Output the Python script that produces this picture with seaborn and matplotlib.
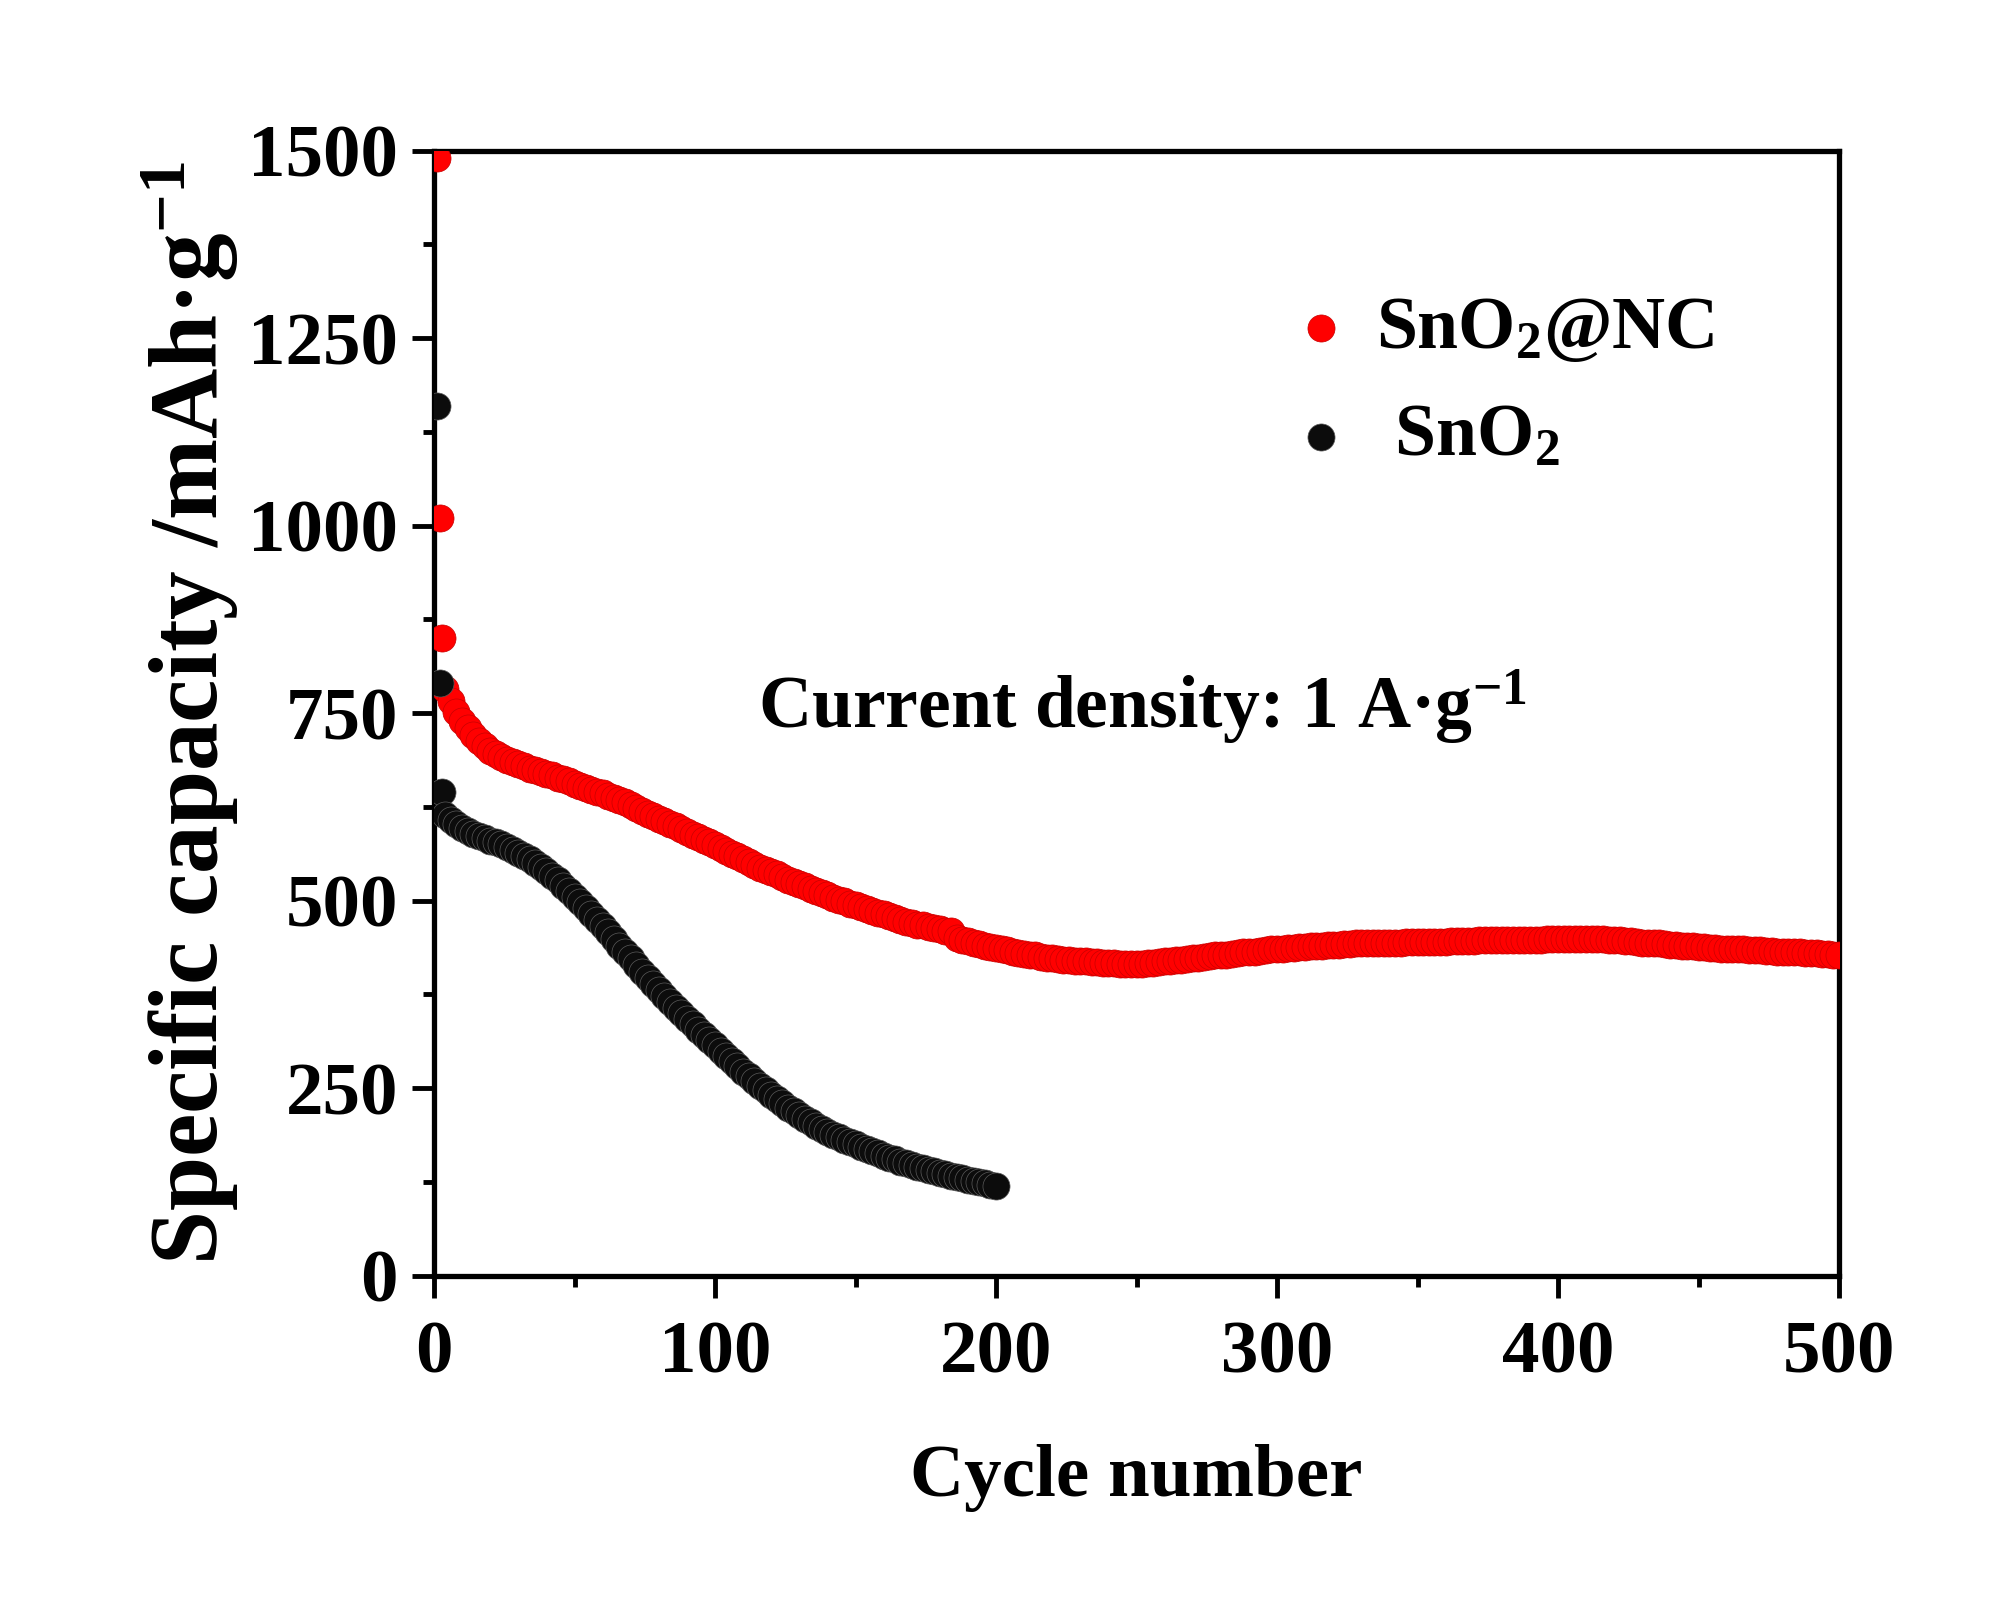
import pandas as pd
import matplotlib
matplotlib.use("Agg")
import matplotlib.pyplot as plt
import seaborn as sns
from matplotlib.ticker import MultipleLocator

# SnO2@NC : specific capacity (mAh g-1)
# cycles 1, 2, 3, then every second cycle from 4 to 500
nc_cycles = [1, 2, 3] + list(range(4, 501, 2))
nc_capacity = [1490, 1010, 850,
               782, 766, 752, 740, 730, 721, 713, 706, 700,
               695, 691, 688, 685, 682, 679, 676, 674, 671, 669,
               667, 664, 662, 659, 656, 653, 650, 648, 645, 643,
               640, 637, 634, 631, 627, 624, 620, 616, 613, 609,
               606, 602, 599, 595, 592, 588, 585, 581, 578, 574,
               570, 566, 562, 559, 555, 551, 548, 544, 541, 538,
               535, 532, 528, 525, 522, 519, 516, 513, 510, 507,
               504, 501, 499, 496, 494, 491, 489, 486, 484, 482,
               479, 477, 474, 472, 470, 468, 467, 465, 463, 462,
               460, 459, 450, 448, 446, 444, 442, 440, 438, 437,
               435, 434, 432, 430, 429, 428, 427, 425, 424, 423,
               422, 421, 421, 420, 419, 419, 418, 418, 417, 417,
               417, 416, 416, 416, 416, 416, 417, 417, 418, 419,
               420, 421, 421, 422, 423, 424, 425, 426, 427, 427,
               428, 429, 430, 431, 431, 432, 433, 434, 435, 435,
               436, 437, 437, 438, 438, 439, 440, 440, 441, 441,
               441, 442, 442, 443, 443, 443, 443, 444, 444, 444,
               444, 444, 445, 445, 445, 445, 445, 445, 445, 445,
               446, 446, 446, 446, 446, 447, 447, 447, 447, 447,
               448, 448, 448, 448, 448, 448, 448, 449, 449, 449,
               449, 449, 449, 449, 449, 449, 449, 449, 448, 448,
               447, 446, 446, 445, 444, 444, 443, 443, 442, 441,
               441, 440, 440, 439, 438, 438, 437, 437, 436, 436,
               436, 435, 435, 434, 434, 434, 433, 433, 432, 432,
               432, 431, 431, 430, 430, 430, 429, 429, 428, 428]

# bare SnO2 : cycles 1, 2, 3, then every second cycle from 4 to 200
sn_cycles = [1, 2, 3] + list(range(4, 201, 2))
sn_capacity = [1160, 790, 645,
               614, 607, 602, 597, 593, 589, 586, 583, 580,
               578, 575, 572, 568, 564, 560, 555, 550, 545, 539,
               533, 527, 520, 513, 505, 498, 490, 482, 474, 466,
               458, 449, 440, 431, 423, 414, 405, 397, 389, 381,
               373, 365, 357, 350, 342, 335, 328, 321, 314, 307,
               300, 293, 286, 279, 272, 266, 259, 253, 247, 241,
               235, 230, 224, 219, 214, 209, 205, 200, 196, 192,
               188, 185, 181, 178, 175, 172, 169, 166, 163, 160,
               157, 155, 152, 150, 147, 145, 143, 141, 139, 137,
               135, 133, 131, 130, 128, 126, 125, 123, 121, 120]

x_ticks = [0, 100, 200, 300, 400, 500]
y_ticks = [0, 250, 500, 750, 1000, 1250, 1500]

sns.set_style("white")
plt.rcParams["font.family"] = ["Liberation Serif", "DejaVu Serif"]
plt.rcParams["font.weight"] = "bold"
plt.rcParams["text.color"] = "black"
plt.rcParams["axes.labelcolor"] = "black"
plt.rcParams["xtick.color"] = "black"
plt.rcParams["ytick.color"] = "black"
plt.rcParams["mathtext.fontset"] = "custom"
plt.rcParams["mathtext.rm"] = "Liberation Serif:bold"
plt.rcParams["mathtext.bf"] = "Liberation Serif:bold"
plt.rcParams["mathtext.it"] = "Liberation Serif:bold"
plt.rcParams["mathtext.default"] = "bf"

df_nc = pd.DataFrame({"Cycle": nc_cycles, "Capacity": nc_capacity})
df_sn = pd.DataFrame({"Cycle": sn_cycles, "Capacity": sn_capacity})

fig = plt.figure(figsize=(20, 16.2), dpi=100)
ax = fig.add_axes([0.217, 0.2125, 0.7025, 0.6945])

sns.scatterplot(ax=ax, data=df_nc, x="Cycle", y="Capacity", color="#ff0000",
                edgecolor="#c80000", linewidth=0.5, s=380, label="SnO$_2$@NC", zorder=3)
sns.scatterplot(ax=ax, data=df_sn, x="Cycle", y="Capacity", color="#0c0c0c",
                edgecolor="#5a5a5a", linewidth=0.5, s=380, label=" SnO$_2$", zorder=4)

ax.set_xlim(0, 500)
ax.set_ylim(0, 1500)
ax.set_xticks(x_ticks)
ax.set_yticks(y_ticks)
ax.xaxis.set_minor_locator(MultipleLocator(50))
ax.yaxis.set_minor_locator(MultipleLocator(125))
ax.tick_params(axis="both", which="both", bottom=True, left=True, top=False, right=False)
ax.tick_params(axis="both", which="major", direction="out", length=16, width=3.5,
               labelsize=54, pad=10, color="black", labelcolor="black")
ax.tick_params(axis="x", which="major", pad=16)
ax.tick_params(axis="both", which="minor", direction="out", length=8, width=3.5,
               color="black")
for lab in ax.get_xticklabels() + ax.get_yticklabels():
    lab.set_fontweight("bold")
for sp in ax.spines.values():
    sp.set_linewidth(3.8)
    sp.set_color("black")

ax.set_xlabel("Cycle number", fontsize=54, fontweight="bold", labelpad=40)
ax.set_ylabel("Specific capacity /mAh\u00b7g$^{-1}$", fontsize=70, fontweight="bold",
              labelpad=6)

ax.text(252, 758, "Current density: 1 A\u00b7g$^{-1}$", fontsize=53, fontweight="bold",
        ha="center", va="center")

leg = ax.legend(loc="upper left", bbox_to_anchor=(0.558, 0.93), frameon=False,
                fontsize=53, handlelength=1.0, handletextpad=0.25, labelspacing=0.55,
                markerscale=1.0)
for t in leg.get_texts():
    t.set_fontweight("bold")

fig.savefig("out.png", dpi=100)
